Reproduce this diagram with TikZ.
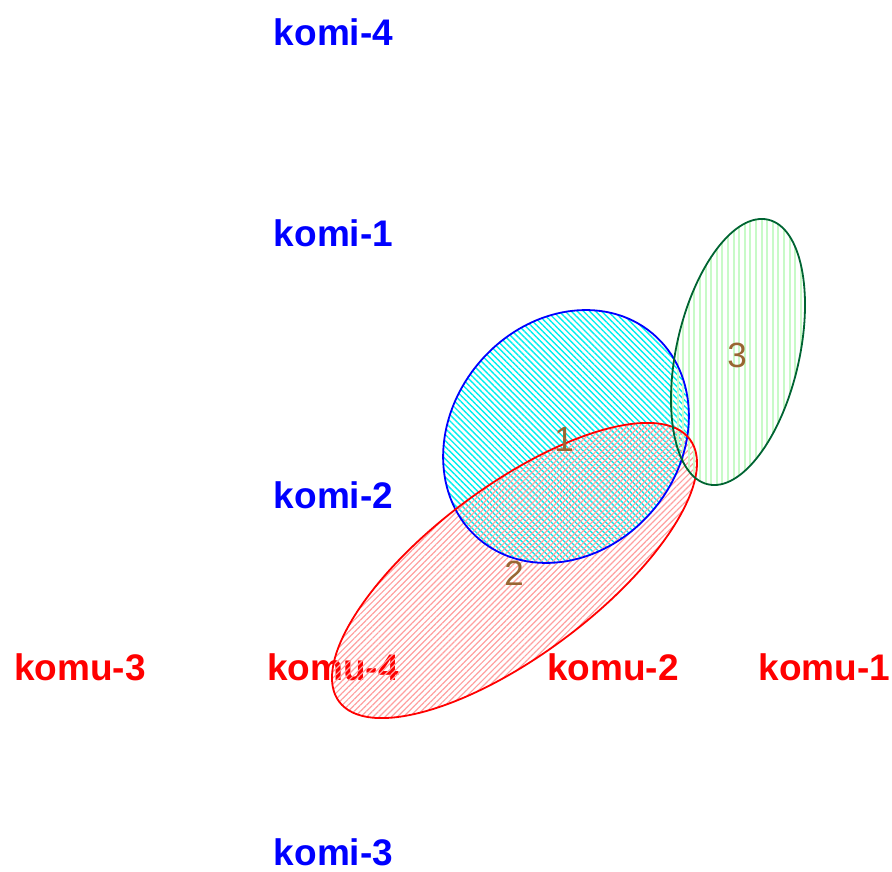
\documentclass[tikz,border=0pt]{standalone}
\usepackage{fontspec}
\setmainfont{Liberation Sans}
\usetikzlibrary{patterns.meta}
\definecolor{lblblue}{RGB}{0,0,255}
\definecolor{lblred}{RGB}{255,0,0}
\definecolor{digitbrown}{RGB}{153,102,51}
\definecolor{hatchcyan}{RGB}{0,238,238}
\definecolor{hatchpink}{RGB}{255,160,160}
\definecolor{hatchgreen}{RGB}{200,250,200}
\definecolor{edgegreen}{RGB}{0,100,50}
\begin{document}
\begin{tikzpicture}[x=1pt,y=1pt,
  komilabel/.style={text=lblblue,font=\fontsize{37}{40}\selectfont\bfseries,anchor=base,inner sep=0pt},
  komulabel/.style={text=lblred,font=\fontsize{37}{40}\selectfont\bfseries,anchor=base,inner sep=0pt},
  digit/.style={text=digitbrown,font=\fontsize{35}{40}\selectfont,anchor=center,inner sep=0pt},
  edge/.style={line width=1.8pt}]
\useasboundingbox (0,0) rectangle (892,871);
% labels
\node[komilabel] (komi4) at (333.5,825) {komi-4};
\node[komilabel] (komi1) at (333.5,624) {komi-1};
\node[komilabel] (komi2) at (333.5,362) {komi-2};
\node[komilabel] (komi3) at (333.5,6) {komi-3};
\node[komulabel] (komu3) at (80,190) {komu-3};
\node[komulabel] (komu4) at (333,190) {komu-4};
\node[komulabel] (komu2) at (613,190) {komu-2};
\node[komulabel] (komu1) at (824.5,190) {komu-1};
% hatched fills
\fill[pattern={Lines[angle=-45,distance=4.3pt,line width=1.4pt]},pattern color=hatchcyan]
  (566,434.5) ellipse [x radius=134.5pt,y radius=114pt,rotate=50];
\fill[pattern={Lines[angle=45,distance=4.3pt,line width=1.2pt]},pattern color=hatchpink]
  (514.5,300.5) ellipse [x radius=219pt,y radius=84.4pt,rotate=36.8];
\fill[pattern={Lines[angle=90,distance=5.6pt,line width=2pt]},pattern color=hatchgreen]
  (738,519) ellipse [x radius=135.7pt,y radius=61.4pt,rotate=77.2];
% outlines
\draw[edge,draw=lblblue] (566,434.5) ellipse [x radius=134.5pt,y radius=114pt,rotate=50];
\draw[edge,draw=lblred] (514.5,300.5) ellipse [x radius=219pt,y radius=84.4pt,rotate=36.8];
\draw[edge,draw=edgegreen] (738,519) ellipse [x radius=135.7pt,y radius=61.4pt,rotate=77.2];
% digits
\node[digit] (d1) at (564,432) {1};
\node[digit] (d2) at (514,298) {2};
\node[digit] (d3) at (737,515.5) {3};
\end{tikzpicture}
\end{document}
